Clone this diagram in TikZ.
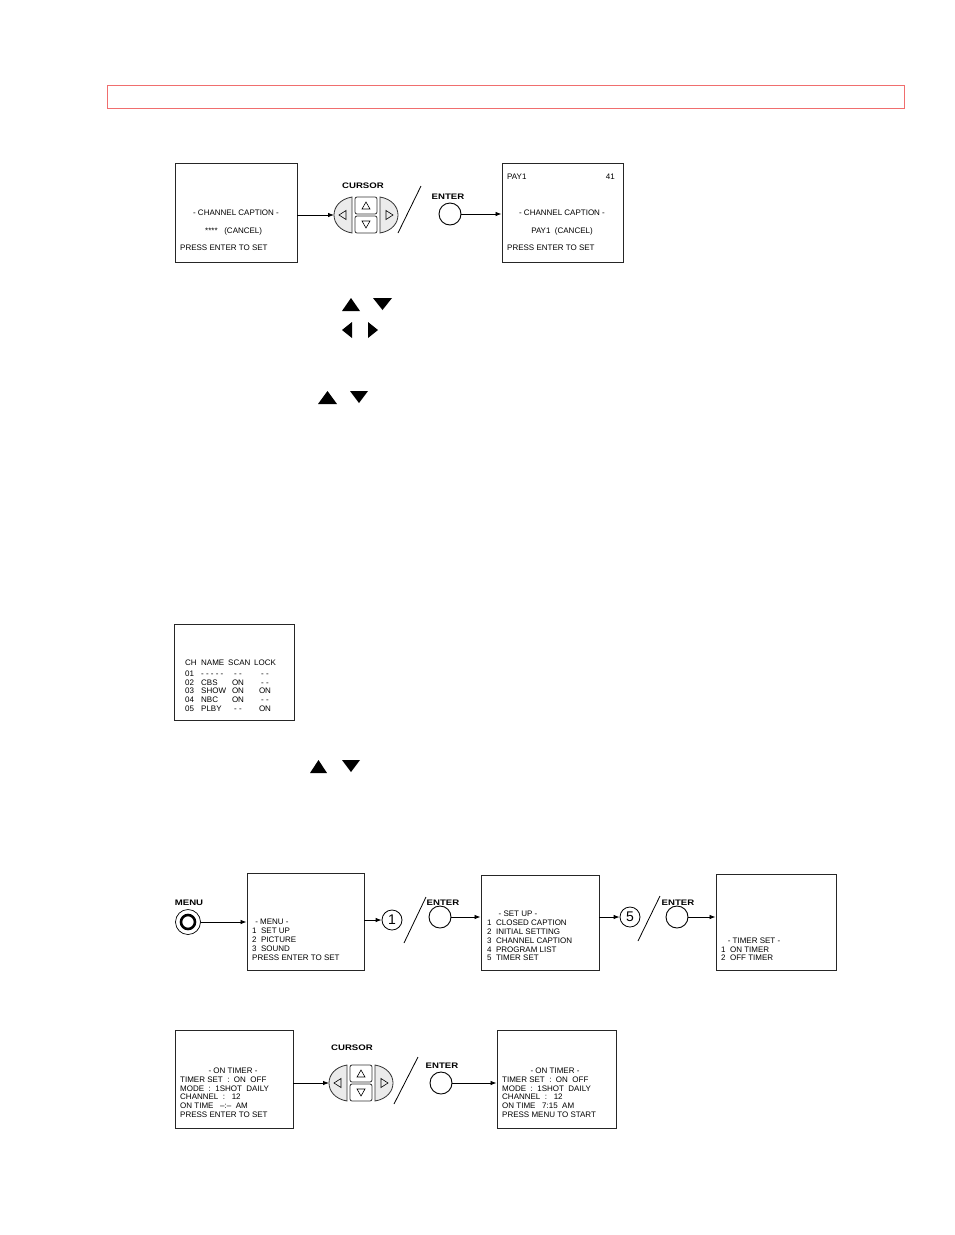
\documentclass[tikz,border=0pt]{standalone}
\usepackage{fontspec}
\setmainfont{Liberation Sans}
\newfontfamily\lblfont[FakeStretch=1.2]{Liberation Sans}
\usetikzlibrary{arrows.meta}
\tikzset{
  scr/.style={draw=black!85,line width=0.9pt,inner sep=0pt},
  st/.style={font=\fontsize{8}{9}\selectfont,inner sep=0pt,text height=5.7pt,text depth=0pt,anchor=west},
  stc/.style={st,anchor=center},
  lbl/.style={font=\lblfont\bfseries\fontsize{8}{9}\selectfont,inner sep=0pt},
  arr/.style={line width=0.8pt,-{Latex[length=6pt,width=4.5pt]}},
  btn/.style={draw,circle,line width=0.9pt,minimum size=22pt,inner sep=0pt},
  numc/.style={draw,circle,line width=0.8pt,minimum size=20pt,inner sep=0pt,font=\fontsize{14}{14}\selectfont},
  slash/.style={line width=0.8pt},
  padpart/.style={draw=black!80,fill=black!8,line width=0.8pt},
  padkey/.style={draw=black!80,fill=white,line width=0.8pt,rounded corners=2pt,minimum width=22pt,minimum height=17pt,inner sep=0pt},
  tri/.style={fill=black}
}
\newcommand\cursorpad[3]{%
  \begin{scope}[shift={(#2,#3)}]
    \draw[padpart] (-14,-18) .. controls (-38,-14) and (-38,14) .. (-14,18) -- cycle;
    \draw[padpart] (14,-18) .. controls (38,-14) and (38,14) .. (14,18) -- cycle;
    \node[padkey] (#1u) at (0,-9.5) {};
    \node[padkey] (#1d) at (0,9.5) {};
    \draw[line width=0.6pt] (-4,-6) -- (4,-6) -- (0,-13) -- cycle;
    \draw[line width=0.6pt] (-4,6) -- (4,6) -- (0,13) -- cycle;
    \draw[line width=0.6pt] (-27,0) -- (-20,-4.5) -- (-20,4.5) -- cycle;
    \draw[line width=0.6pt] (27,0) -- (20,-4.5) -- (20,4.5) -- cycle;
    \coordinate (#1L) at (-32,0);
  \end{scope}}
\begin{document}
\begin{tikzpicture}[x=1pt,y=-1pt]
\useasboundingbox (0,0) rectangle (954,1235);
\fill[white] (0,0) rectangle (954,1235);
% red header box
\draw[draw={rgb,255:red,240;green,110;blue,110},line width=1pt] (107,85) rectangle (904,108);

% ---------- Row 1 ----------
\node[scr,minimum width=122pt,minimum height=99pt] (s1) at (236,212.5) {};
\node[stc] (s1a) at (236,213) {- CHANNEL CAPTION -};
\node[st] (s1b) at (205,231) {****\ \ \ (CANCEL)};
\node[st] (s1c) at (180,248) {PRESS ENTER TO SET};
\node[lbl] (cur1) at (363,186) {CURSOR};
\cursorpad{p1}{366}{215}
\draw[arr] (s1.east |- p1L) -- (p1L);
\draw[slash] (398,233) coordinate (sl1a) -- (421,186) coordinate (sl1b);
\node[lbl] (en1) at (448,197) {ENTER};
\node[btn] (b1) at (450,214) {};
\node[scr,minimum width=121pt,minimum height=99pt] (s2) at (562.5,212.5) {};
\draw[arr] (b1.east) -- (b1.east -| s2.west);
\node[st] (s2a) at (507,177) {PAY1};
\node[st,anchor=east] (s2b) at (615,177) {41};
\node[stc] (s2c) at (562,213) {- CHANNEL CAPTION -};
\node[stc] (s2d) at (562,231) {PAY1\ \ (CANCEL)};
\node[st] (s2e) at (507,248) {PRESS ENTER TO SET};

% ---------- triangles ----------
\fill[tri] (342,311) -- (360,311) -- (351,298) -- cycle;
\fill[tri] (373,298) -- (392,298) -- (382.5,310) -- cycle;
\fill[tri] (352,322) -- (352,338) -- (342,330) -- cycle;
\fill[tri] (368,322) -- (368,338) -- (378,330) -- cycle;
\fill[tri] (318,404) -- (337,404) -- (327.5,391) -- cycle;
\fill[tri] (350,391) -- (368,391) -- (359,403) -- cycle;
\fill[tri] (310,773) -- (327,773) -- (318.5,760) -- cycle;
\fill[tri] (342,760) -- (360,760) -- (351,772) -- cycle;

% ---------- channel list ----------
\node[scr,minimum width=120pt,minimum height=96pt] (ch) at (234.5,672) {};
\node[st] (h1) at (185,663) {CH};
\node[st] (h2) at (201,663) {NAME};
\node[st] (h3) at (228,663) {SCAN};
\node[st] (h4) at (254,663) {LOCK};
\node[st] (r11) at (185,674) {01};
\node[st] (r12) at (201,674) {- - - - -};
\node[stc] (r13) at (238,674) {- -};
\node[stc] (r14) at (265,674) {- -};
\node[st] (r21) at (185,683) {02};
\node[st] (r22) at (201,683) {CBS};
\node[stc] (r23) at (238,683) {ON};
\node[stc] (r24) at (265,683) {- -};
\node[st] (r31) at (185,691) {03};
\node[st] (r32) at (201,691) {SHOW};
\node[stc] (r33) at (238,691) {ON};
\node[stc] (r34) at (265,691) {ON};
\node[st] (r41) at (185,700) {04};
\node[st] (r42) at (201,700) {NBC};
\node[stc] (r43) at (238,700) {ON};
\node[stc] (r44) at (265,700) {- -};
\node[st] (r51) at (185,709) {05};
\node[st] (r52) at (201,709) {PLBY};
\node[stc] (r53) at (238,709) {- -};
\node[stc] (r54) at (265,709) {ON};

% ---------- Row 3 ----------
\node[lbl] (mn) at (189,903) {MENU};
\node[draw,circle,line width=0.7pt,minimum size=25pt,inner sep=0pt] (mb) at (188,922) {};
\node[draw,circle,line width=2.6pt,minimum size=14pt,inner sep=0pt] (mbi) at (188,922) {};
\node[scr,minimum width=117pt,minimum height=97pt] (m1) at (305.5,921.5) {};
\draw[arr] (mb.east) -- (mb.east -| m1.west);
\node[stc] (m1a) at (272,922) {- MENU -};
\node[st] (m1b) at (252,931) {1\ \ SET UP};
\node[st] (m1c) at (252,940) {2\ \ PICTURE};
\node[st] (m1d) at (252,949) {3\ \ SOUND};
\node[st] (m1e) at (252,958) {PRESS ENTER TO SET};
\node[numc] (n1) at (392,920) {1};
\draw[arr] (m1.east |- n1) -- (n1.west);
\draw[slash] (404,943) coordinate (sl2a) -- (426,897) coordinate (sl2b);
\node[lbl] (en2) at (443,903) {ENTER};
\node[btn] (b2) at (440,917) {};
\node[scr,minimum width=118pt,minimum height=95pt] (m2) at (540,922.5) {};
\draw[arr] (b2.east) -- (b2.east -| m2.west);
\node[stc] (m2a) at (518,914) {- SET UP -};
\node[st] (m2b) at (487,923) {1\ \ CLOSED CAPTION};
\node[st] (m2c) at (487,932) {2\ \ INITIAL SETTING};
\node[st] (m2d) at (487,941) {3\ \ CHANNEL CAPTION};
\node[st] (m2e) at (487,950) {4\ \ PROGRAM LIST};
\node[st] (m2f) at (487,958) {5\ \ TIMER SET};
\node[numc] (n5) at (630,917) {5};
\draw[arr] (m2.east |- n5) -- (n5.west);
\draw[slash] (638,941) coordinate (sl3a) -- (660,896) coordinate (sl3b);
\node[lbl] (en3) at (678,903) {ENTER};
\node[btn] (b3) at (677,917) {};
\node[scr,minimum width=120pt,minimum height=96pt] (m3) at (776,922) {};
\draw[arr] (b3.east) -- (b3.east -| m3.west);
\node[stc] (m3a) at (754,941) {- TIMER SET -};
\node[st] (m3b) at (721,950) {1\ \ ON TIMER};
\node[st] (m3c) at (721,958) {2\ \ OFF TIMER};

% ---------- Row 4 ----------
\node[scr,minimum width=118pt,minimum height=98pt] (t1) at (234,1079) {};
\node[stc] (t1a) at (233,1071) {- ON TIMER -};
\node[st] (t1b) at (180,1080) {TIMER SET\ \ :\ \ ON\ \ OFF};
\node[st] (t1c) at (180,1089) {MODE\ \ :\ \ 1SHOT\ \ DAILY};
\node[st] (t1d) at (180,1097) {CHANNEL\ \ :\ \ \ 12};
\node[st] (t1e) at (180,1106) {ON TIME\ \ \ --:--\ \ AM};
\node[st] (t1f) at (180,1115) {PRESS ENTER TO SET};
\node[lbl] (cur2) at (352,1048) {CURSOR};
\cursorpad{p2}{361}{1083}
\draw[arr] (t1.east |- p2L) -- (p2L);
\draw[slash] (394,1104) coordinate (sl4a) -- (418,1057) coordinate (sl4b);
\node[lbl] (en4) at (442,1066) {ENTER};
\node[btn] (b4) at (441,1083) {};
\node[scr,minimum width=119pt,minimum height=98pt] (t2) at (556.5,1079) {};
\draw[arr] (b4.east) -- (b4.east -| t2.west);
\node[stc] (t2a) at (555,1071) {- ON TIMER -};
\node[st] (t2b) at (502,1080) {TIMER SET\ \ :\ \ ON\ \ OFF};
\node[st] (t2c) at (502,1089) {MODE\ \ :\ \ 1SHOT\ \ DAILY};
\node[st] (t2d) at (502,1097) {CHANNEL\ \ :\ \ \ 12};
\node[st] (t2e) at (502,1106) {ON TIME\ \ \ 7:15\ \ AM};
\node[st] (t2f) at (502,1115) {PRESS MENU TO START};
\end{tikzpicture}
\end{document}
